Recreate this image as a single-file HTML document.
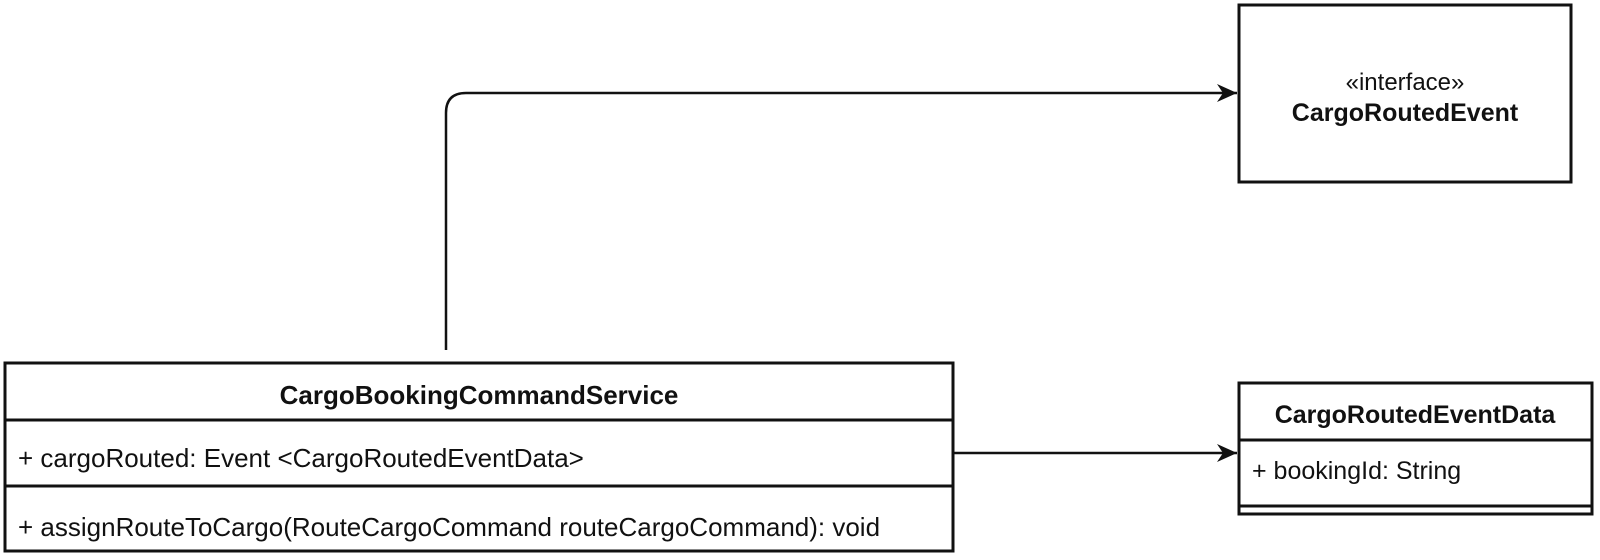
<!DOCTYPE html>
<html><head><meta charset="utf-8"><style>
html,body{margin:0;padding:0;background:#fff;}
svg{display:block;}
text{font-family:"Liberation Sans",Arial,sans-serif;fill:#111;}
</style></head><body>
<svg width="1600" height="560" viewBox="0 0 1600 560" xmlns="http://www.w3.org/2000/svg">
<defs>
<marker id="ar" markerWidth="22" markerHeight="20" refX="20" refY="10" orient="auto" markerUnits="userSpaceOnUse">
<path d="M0,1 L20,10 L0,19 L6,10 Z" fill="#111"/>
</marker>
</defs>
<g fill="none" stroke="#111" stroke-width="3">
<rect x="5" y="363" width="948" height="188"/>
<line x1="5" y1="420" x2="953" y2="420"/>
<line x1="5" y1="486" x2="953" y2="486"/>
<rect x="1239" y="5" width="332" height="177"/>
<rect x="1239" y="383" width="353" height="131"/>
<line x1="1239" y1="440" x2="1592" y2="440"/>
<line x1="1239" y1="506" x2="1592" y2="506"/>
<path d="M446,350 L446,113 Q446,93 466,93 L1237,93" marker-end="url(#ar)" stroke-width="2.5"/>
<path d="M953,453 L1237,453" marker-end="url(#ar)" stroke-width="2.5"/>
</g>
<text x="479" y="404" font-size="26" font-weight="bold" text-anchor="middle">CargoBookingCommandService</text>
<text x="18" y="467" font-size="26">+ cargoRouted: Event &lt;CargoRoutedEventData&gt;</text>
<text x="18" y="536" font-size="26">+ assignRouteToCargo(RouteCargoCommand routeCargoCommand): void</text>
<text x="1405" y="90" font-size="24" text-anchor="middle">«interface»</text>
<text x="1405" y="121" font-size="25" font-weight="bold" text-anchor="middle">CargoRoutedEvent</text>
<text x="1415" y="423" font-size="25" font-weight="bold" text-anchor="middle">CargoRoutedEventData</text>
<text x="1252" y="479" font-size="25">+ bookingId: String</text>
</svg>
</body></html>
